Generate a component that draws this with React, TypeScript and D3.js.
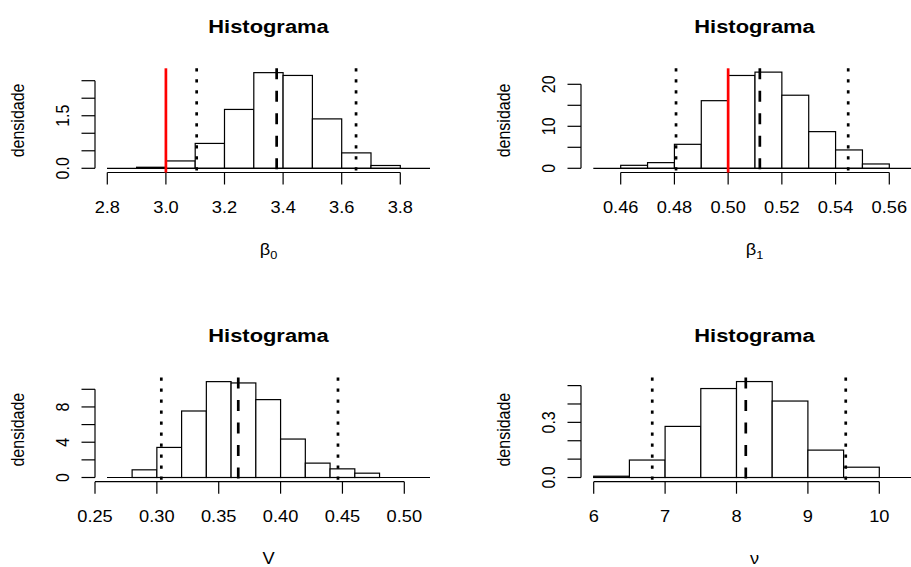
import React from 'react';
import * as d3 from 'd3';

// ---------- data ----------
const b0BinStart = 2.9;
const b0BinWidth = 0.1;
const b0Density = [0.03, 0.21, 0.71, 1.68, 2.73, 2.65, 1.41, 0.44, 0.08];
const b0XTicks = [2.8, 3.0, 3.2, 3.4, 3.6, 3.8];
const b0XLabels = ['2.8', '3.0', '3.2', '3.4', '3.6', '3.8'];
const b0YTicks = [0, 0.5, 1.0, 1.5, 2.0, 2.5];
const b0YLabels = ['0.0', '', '', '1.5', '', ''];
const b0True = [3.0];
const b0Quantiles = [3.105, 3.649];
const b0Mean = [3.378];

const b1BinStart = 0.46;
const b1BinWidth = 0.01;
const b1Density = [0.71, 1.35, 5.71, 16.1, 22.1, 22.9, 17.4, 8.73, 4.37, 1.03];
const b1XTicks = [0.46, 0.48, 0.5, 0.52, 0.54, 0.56];
const b1XLabels = ['0.46', '0.48', '0.50', '0.52', '0.54', '0.56'];
const b1YTicks = [0, 5, 10, 15, 20];
const b1YLabels = ['0', '', '10', '', '20'];
const b1True = [0.5];
const b1Quantiles = [0.4806, 0.5447];
const b1Mean = [0.5118];

const vBinStart = 0.28;
const vBinWidth = 0.02;
const vDensity = [0.87, 3.41, 7.54, 10.87, 10.72, 8.83, 4.36, 1.63, 0.98, 0.49];
const vXTicks = [0.25, 0.3, 0.35, 0.4, 0.45, 0.5];
const vXLabels = ['0.25', '0.30', '0.35', '0.40', '0.45', '0.50'];
const vYTicks = [0, 2, 4, 6, 8, 10];
const vYLabels = ['0', '', '4', '', '8', ''];
const vTrue: number[] = [];
const vQuantiles = [0.3036, 0.4464];
const vMean = [0.3658];

const nuBinStart = 6;
const nuBinWidth = 0.5;
const nuDensity = [0.007, 0.095, 0.278, 0.484, 0.522, 0.416, 0.149, 0.056];
const nuXTicks = [6, 7, 8, 9, 10];
const nuXLabels = ['6', '7', '8', '9', '10'];
const nuYTicks = [0, 0.1, 0.2, 0.3, 0.4, 0.5];
const nuYLabels = ['0.0', '', '', '0.3', '', ''];
const nuTrue: number[] = [];
const nuQuantiles = [6.82, 9.53];
const nuMean = [8.13];

const title = 'Histograma';
const yTitle = 'densidade';

// ---------- layout ----------
const W = 911;
const H = 567;
const SX = 1.14;
const FONT = '"Liberation Sans", Arial, Helvetica, sans-serif';

const cols = [
  { yAxisX: 95, plotL: 107, plotR: 430, center: 268.5 },
  { yAxisX: 581, plotL: 593.3, plotR: 916, center: 754.5 },
];
const rowOffset = 309.2;
const rowBase = {
  plotTop: 68.3,
  plotBottom: 172.6,
  zeroY: 168.3,
  xAxisY: 172.5,
  titleY: 32.5,
  tickLabelY: 212.5,
  xLabelY: 255,
};

type Panel = {
  col: number;
  row: number;
  binStart: number;
  binWidth: number;
  density: number[];
  xTicks: number[];
  xLabels: string[];
  xRange: [number, number];
  yTicks: number[];
  yLabels: string[];
  yTopPx: number;
  trueVals: number[];
  quant: number[];
  mean: number[];
  xlab: React.ReactNode;
};

const panels: Panel[] = [
  {
    col: 0, row: 0, binStart: b0BinStart, binWidth: b0BinWidth, density: b0Density,
    xTicks: b0XTicks, xLabels: b0XLabels, xRange: [107.3, 400.3],
    yTicks: b0YTicks, yLabels: b0YLabels, yTopPx: 80.7,
    trueVals: b0True, quant: b0Quantiles, mean: b0Mean,
    xlab: (<><tspan>β</tspan><tspan fontSize={11.2} dy={4}>0</tspan></>),
  },
  {
    col: 1, row: 0, binStart: b1BinStart, binWidth: b1BinWidth, density: b1Density,
    xTicks: b1XTicks, xLabels: b1XLabels, xRange: [620.7, 889.3],
    yTicks: b1YTicks, yLabels: b1YLabels, yTopPx: 84.3,
    trueVals: b1True, quant: b1Quantiles, mean: b1Mean,
    xlab: (<><tspan>β</tspan><tspan fontSize={11.2} dy={4}>1</tspan></>),
  },
  {
    col: 0, row: 1, binStart: vBinStart, binWidth: vBinWidth, density: vDensity,
    xTicks: vXTicks, xLabels: vXLabels, xRange: [95, 404.3],
    yTicks: vYTicks, yLabels: vYLabels, yTopPx: 389.3,
    trueVals: vTrue, quant: vQuantiles, mean: vMean,
    xlab: 'V',
  },
  {
    col: 1, row: 1, binStart: nuBinStart, binWidth: nuBinWidth, density: nuDensity,
    xTicks: nuXTicks, xLabels: nuXLabels, xRange: [593.7, 879.3],
    yTicks: nuYTicks, yLabels: nuYLabels, yTopPx: 385.6,
    trueVals: nuTrue, quant: nuQuantiles, mean: nuMean,
    xlab: 'ν',
  },
];

const HText = ({ x, y, size, weight, children }: any) => (
  <text
    transform={`translate(${x},${y}) scale(${SX},1)`}
    fontSize={size}
    fontWeight={weight || 'normal'}
    textAnchor="middle"
    fontFamily={FONT}
    fill="#000"
  >
    {children}
  </text>
);

const VText = ({ x, y, size, children }: any) => (
  <text
    transform={`translate(${x},${y}) scale(${SX},1) rotate(-90)`}
    fontSize={size}
    textAnchor="middle"
    fontFamily={FONT}
    fill="#000"
  >
    {children}
  </text>
);

const LW = 2.7;

function PanelView({ p }: { p: Panel }) {
  const c = cols[p.col];
  const off = p.row * rowOffset;
  const r = {
    plotTop: rowBase.plotTop + off,
    plotBottom: rowBase.plotBottom + off,
    zeroY: rowBase.zeroY + off,
    xAxisY: rowBase.xAxisY + off,
    titleY: rowBase.titleY + off,
    tickLabelY: rowBase.tickLabelY + off,
    xLabelY: rowBase.xLabelY + off,
  };
  const x = d3
    .scaleLinear()
    .domain([p.xTicks[0], p.xTicks[p.xTicks.length - 1]])
    .range(p.xRange);
  const y = d3
    .scaleLinear()
    .domain([0, p.yTicks[p.yTicks.length - 1]])
    .range([r.zeroY, p.yTopPx]);

  const bars = p.density.map((d, i) => {
    const x0 = p.binStart + i * p.binWidth;
    return { x0, x1: x0 + p.binWidth, d };
  });
  const midY = (r.plotTop + r.plotBottom) / 2;

  return (
    <g>
      <HText x={c.center} y={r.titleY} size={19.2} weight="bold">{title}</HText>
      {/* bars */}
      {bars.map((b, i) => (
        <rect
          key={i}
          x={x(b.x0)}
          y={y(b.d)}
          width={x(b.x1) - x(b.x0)}
          height={y(0) - y(b.d)}
          fill="white"
          stroke="#000"
          strokeWidth={1.2}
        />
      ))}
      {/* baseline at 0 */}
      <line x1={c.plotL} x2={c.plotR} y1={y(0)} y2={y(0)} stroke="#000" strokeWidth={1.2} />
      {/* x axis */}
      <line
        x1={x(p.xTicks[0])}
        x2={x(p.xTicks[p.xTicks.length - 1])}
        y1={r.xAxisY}
        y2={r.xAxisY}
        stroke="#000"
        strokeWidth={1.2}
      />
      {p.xTicks.map((t, i) => (
        <g key={i}>
          <line x1={x(t)} x2={x(t)} y1={r.xAxisY} y2={r.xAxisY + 12} stroke="#000" strokeWidth={1.2} />
          <HText x={x(t)} y={r.tickLabelY} size={16}>{p.xLabels[i]}</HText>
        </g>
      ))}
      {/* y axis */}
      <line
        x1={c.yAxisX}
        x2={c.yAxisX}
        y1={y(0)}
        y2={y(p.yTicks[p.yTicks.length - 1])}
        stroke="#000"
        strokeWidth={1.2}
      />
      {p.yTicks.map((t, i) => (
        <g key={i}>
          <line x1={c.yAxisX - 13.5} x2={c.yAxisX} y1={y(t)} y2={y(t)} stroke="#000" strokeWidth={1.2} />
          {p.yLabels[i] ? (
            <VText x={c.yAxisX - 26.5} y={y(t)} size={16}>{p.yLabels[i]}</VText>
          ) : null}
        </g>
      ))}
      <VText x={c.yAxisX - 71} y={midY} size={16}>{yTitle}</VText>
      <HText x={c.center} y={r.xLabelY} size={16}>{p.xlab}</HText>
      {/* reference lines */}
      {p.quant.map((v, i) => (
        <line
          key={'q' + i}
          x1={x(v)}
          x2={x(v)}
          y1={r.plotTop}
          y2={r.plotBottom}
          stroke="#000"
          strokeWidth={LW}
          strokeDasharray="3.3 7.7"
        />
      ))}
      {p.mean.map((v, i) => (
        <line
          key={'m' + i}
          x1={x(v)}
          x2={x(v)}
          y1={r.plotTop}
          y2={r.plotBottom}
          stroke="#000"
          strokeWidth={LW}
          strokeDasharray="11 11.5"
        />
      ))}
      {p.trueVals.map((v, i) => (
        <line
          key={'t' + i}
          x1={x(v)}
          x2={x(v)}
          y1={r.plotTop}
          y2={r.plotBottom}
          stroke="#FF0000"
          strokeWidth={LW}
        />
      ))}
    </g>
  );
}

export default function App() {
  return (
    <svg
      width={W}
      height={H}
      viewBox={`0 0 ${W} ${H}`}
      style={{ position: 'absolute', left: 0, top: 0, display: 'block' }}
    >
      <rect x={0} y={0} width={W} height={H} fill="white" />
      {panels.map((p, i) => (
        <PanelView key={i} p={p} />
      ))}
    </svg>
  );
}
